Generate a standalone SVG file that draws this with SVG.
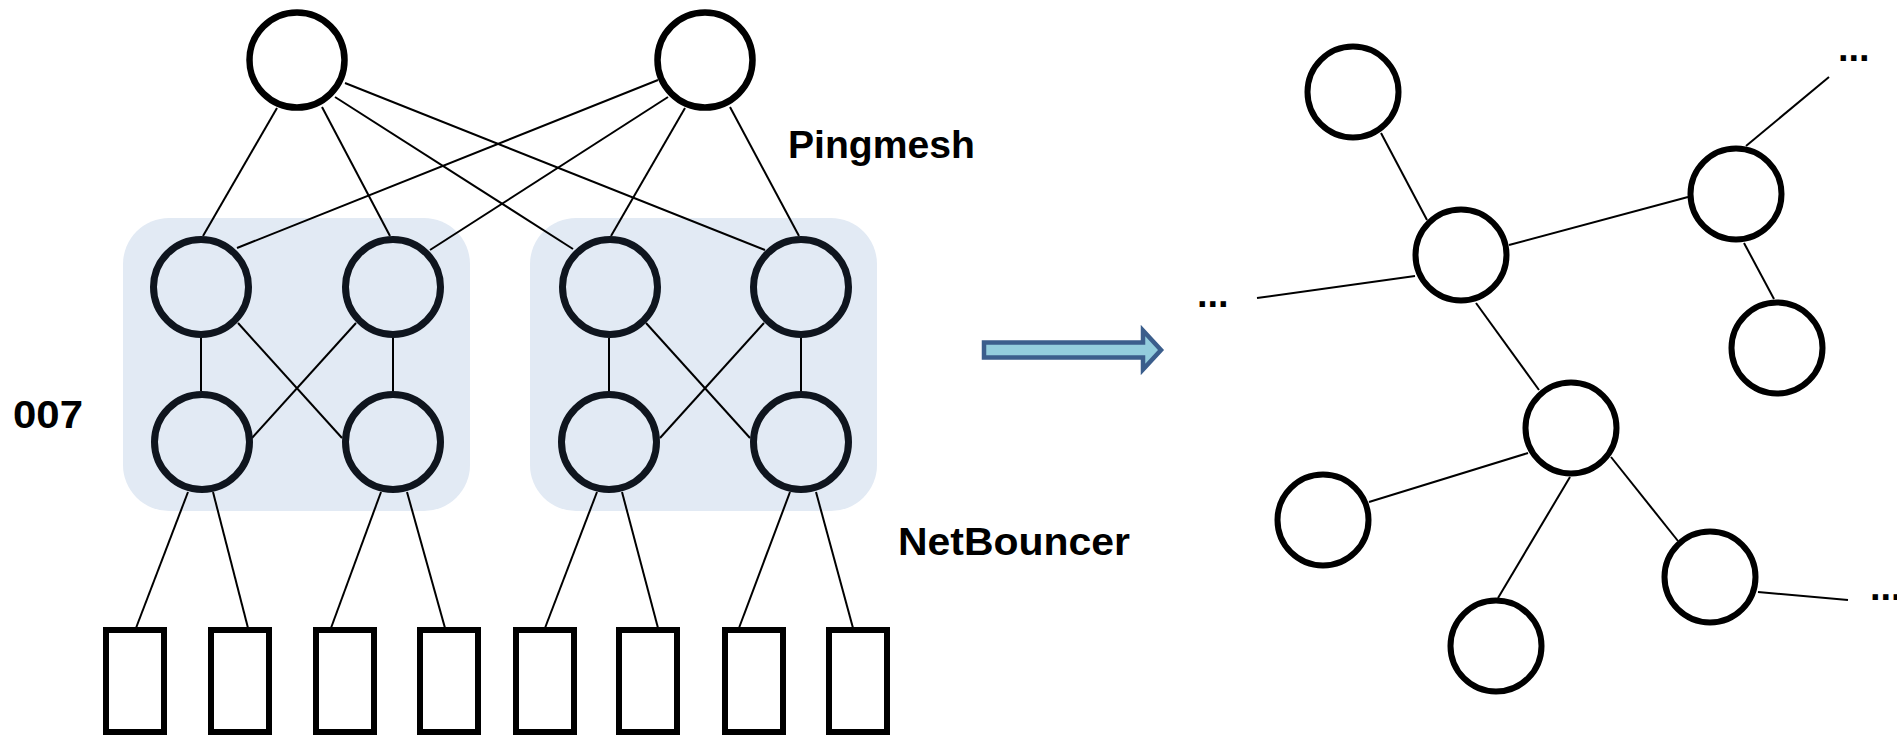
<svg xmlns="http://www.w3.org/2000/svg" width="1897" height="735" viewBox="0 0 1897 735">
  <style>
    .pod { fill: #E2EAF4; }
    .sw-top { fill: #FFFFFF; stroke: #000000; stroke-width: 6.5; }
    .sw-pod { fill: #E2EAF4; stroke: #0F151E; stroke-width: 7; }
    .host { fill: #FFFFFF; stroke: #000000; stroke-width: 6; }
    .gnode { fill: #FFFFFF; stroke: #000000; stroke-width: 6; }
    .link { stroke: #000000; stroke-width: 2; fill: none; }
    .label { font-family: "Liberation Sans", Arial, sans-serif; font-weight: bold; font-size: 38px; fill: #000000; }
    .arrow { fill: #93CDDD; stroke: #3B5E8C; stroke-width: 4.5; stroke-linejoin: miter; }
  </style>

  <rect width="1897" height="735" fill="#FFFFFF"/>

  <!-- pods -->
  <g id="pod-1"><rect class="pod" x="123" y="218" width="347" height="293" rx="46" ry="46"/></g>
  <g id="pod-2"><rect class="pod" x="530" y="218" width="347" height="293" rx="46" ry="46"/></g>

  <!-- connectors -->
  <g id="connectors" class="link">
    <!-- spine to aggregation -->
    <line x1="277" y1="108" x2="203" y2="236"/>
    <line x1="322" y1="107" x2="390" y2="236"/>
    <line x1="335" y1="97" x2="573" y2="249"/>
    <line x1="345" y1="83" x2="765" y2="250"/>
    <line x1="658" y1="80" x2="237" y2="248"/>
    <line x1="668" y1="97" x2="430" y2="250"/>
    <line x1="685" y1="108" x2="611" y2="236"/>
    <line x1="730" y1="107" x2="799" y2="236"/>
    <!-- pod 1 internal -->
    <line x1="201" y1="338" x2="201" y2="391"/>
    <line x1="393" y1="338" x2="393" y2="391"/>
    <line x1="238" y1="323" x2="342" y2="438"/>
    <line x1="356" y1="323" x2="252" y2="438"/>
    <!-- pod 2 internal -->
    <line x1="609" y1="338" x2="609" y2="391"/>
    <line x1="801" y1="338" x2="801" y2="391"/>
    <line x1="646" y1="323" x2="750" y2="438"/>
    <line x1="764" y1="323" x2="660" y2="438"/>
    <!-- tor to hosts -->
    <line x1="188" y1="492" x2="136" y2="628"/>
    <line x1="213" y1="492" x2="248" y2="628"/>
    <line x1="381" y1="492" x2="331" y2="628"/>
    <line x1="407" y1="492" x2="445" y2="628"/>
    <line x1="597" y1="492" x2="545" y2="628"/>
    <line x1="622" y1="492" x2="658" y2="628"/>
    <line x1="790" y1="492" x2="739" y2="628"/>
    <line x1="816" y1="492" x2="853" y2="628"/>
    <!-- graph edges -->
    <line x1="1381" y1="133" x2="1427" y2="220"/>
    <line x1="1509" y1="245" x2="1688" y2="197"/>
    <line x1="1746" y1="146" x2="1829" y2="77"/>
    <line x1="1415" y1="276" x2="1257" y2="298"/>
    <line x1="1744" y1="243" x2="1774" y2="299"/>
    <line x1="1476" y1="303" x2="1539" y2="390"/>
    <line x1="1528" y1="453" x2="1369" y2="502"/>
    <line x1="1570" y1="477" x2="1498" y2="598"/>
    <line x1="1611" y1="457" x2="1678" y2="541"/>
    <line x1="1758" y1="592" x2="1848" y2="600"/>
  </g>

  <!-- spine switches -->
  <g id="spine-1"><circle class="sw-top" cx="297" cy="60" r="47.5"/></g>
  <g id="spine-2"><circle class="sw-top" cx="705" cy="60" r="47.5"/></g>

  <!-- pod 1 switches -->
  <g id="agg-1"><circle class="sw-pod" cx="201" cy="287" r="47.5"/></g>
  <g id="agg-2"><circle class="sw-pod" cx="393" cy="287" r="47.5"/></g>
  <g id="tor-1"><circle class="sw-pod" cx="202" cy="442" r="47.5"/></g>
  <g id="tor-2"><circle class="sw-pod" cx="393" cy="442" r="47.5"/></g>

  <!-- pod 2 switches -->
  <g id="agg-3"><circle class="sw-pod" cx="610" cy="287" r="47.5"/></g>
  <g id="agg-4"><circle class="sw-pod" cx="801" cy="287" r="47.5"/></g>
  <g id="tor-3"><circle class="sw-pod" cx="609" cy="442" r="47.5"/></g>
  <g id="tor-4"><circle class="sw-pod" cx="801" cy="442" r="47.5"/></g>

  <!-- hosts -->
  <g id="host-1"><rect class="host" x="106" y="630" width="58" height="102"/></g>
  <g id="host-2"><rect class="host" x="211" y="630" width="58" height="102"/></g>
  <g id="host-3"><rect class="host" x="316" y="630" width="58" height="102"/></g>
  <g id="host-4"><rect class="host" x="420" y="630" width="58" height="102"/></g>
  <g id="host-5"><rect class="host" x="516" y="630" width="58" height="102"/></g>
  <g id="host-6"><rect class="host" x="619" y="630" width="58" height="102"/></g>
  <g id="host-7"><rect class="host" x="725" y="630" width="58" height="102"/></g>
  <g id="host-8"><rect class="host" x="829" y="630" width="58" height="102"/></g>

  <!-- labels -->
  <g id="label-pingmesh"><text class="label" x="788" y="158" textLength="187" lengthAdjust="spacingAndGlyphs">Pingmesh</text></g>
  <g id="label-007"><text class="label" x="13" y="428" textLength="70" lengthAdjust="spacingAndGlyphs">007</text></g>
  <g id="label-netbouncer"><text class="label" x="898" y="555" textLength="232" lengthAdjust="spacingAndGlyphs">NetBouncer</text></g>

  <!-- transform arrow -->
  <g id="arrow">
    <polygon class="arrow" points="984,342.5 1143,342.5 1143,330.5 1161,350 1143,369.5 1143,357.5 984,357.5"/>
  </g>

  <!-- graph nodes -->
  <g id="g-node-a"><circle class="gnode" cx="1353" cy="92" r="45.5"/></g>
  <g id="g-node-b"><circle class="gnode" cx="1461" cy="255" r="45.5"/></g>
  <g id="g-node-c"><circle class="gnode" cx="1736" cy="194" r="45.5"/></g>
  <g id="g-node-d"><circle class="gnode" cx="1777" cy="348" r="45.5"/></g>
  <g id="g-node-e"><circle class="gnode" cx="1571" cy="428" r="45.5"/></g>
  <g id="g-node-f"><circle class="gnode" cx="1323" cy="520" r="45.5"/></g>
  <g id="g-node-g"><circle class="gnode" cx="1496" cy="646" r="45.5"/></g>
  <g id="g-node-h"><circle class="gnode" cx="1710" cy="577" r="45.5"/></g>

  <!-- ellipses marking the graph continuing -->
  <g id="more-left"><text class="label" x="1197" y="307">...</text></g>
  <g id="more-top"><text class="label" x="1838" y="61">...</text></g>
  <g id="more-bottom"><text class="label" x="1870" y="600">...</text></g>
</svg>
